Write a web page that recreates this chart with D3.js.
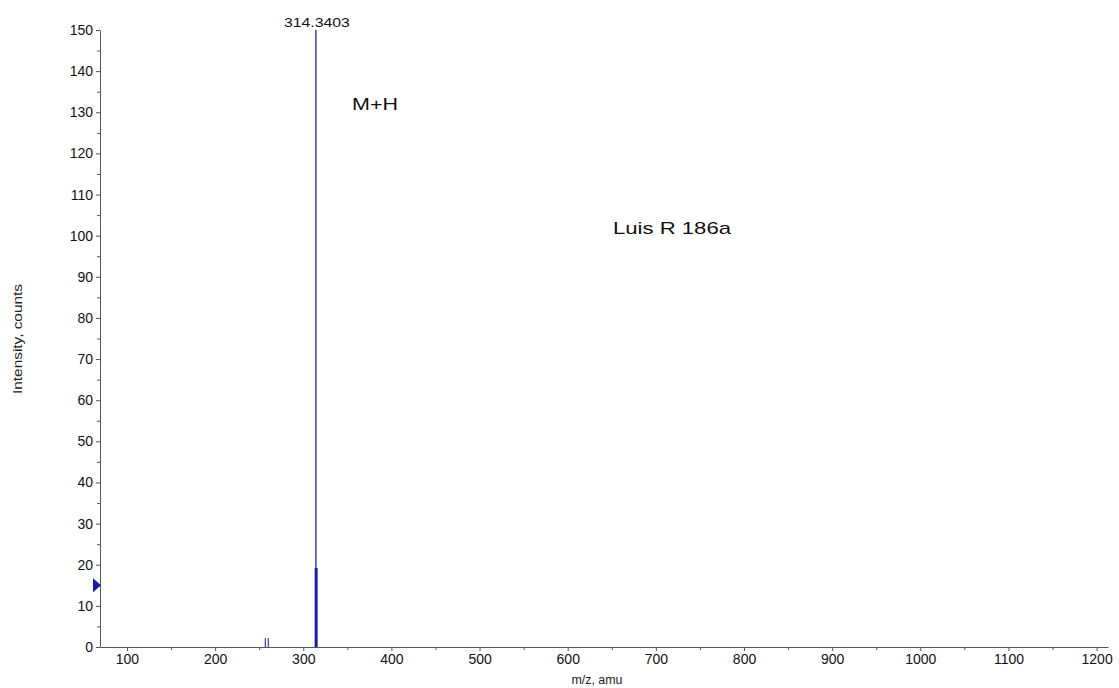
<!DOCTYPE html>
<html><head><meta charset="utf-8">
<script src="https://cdn.jsdelivr.net/npm/d3@7"></script>
<style>body{margin:0;background:#fff;}svg{display:block;font-family:"Liberation Sans",Arial,sans-serif;}</style>
</head><body>
<script>
// Data
const peakMz = [256.9, 260.3, 314.3403];
const peakIntensity = [2.2, 2.2, 150];
const profileMz = [314.6];
const profileIntensity = [19.2];
const xTicks = [100, 200, 300, 400, 500, 600, 700, 800, 900, 1000, 1100, 1200];
const yTicks = [0, 10, 20, 30, 40, 50, 60, 70, 80, 90, 100, 110, 120, 130, 140, 150];
const peakLabel = ["314.3403"];
const annotations = ["M+H", "Luis R 186a"];
const thresholdValue = [15];

const W = 1119, H = 688;
const svg = d3.select("body").append("svg").attr("width", W).attr("height", H);

const x = d3.scaleLinear().domain([69.4, 1212.9]).range([100, 1108]);
const y = d3.scaleLinear().domain([0, 150]).range([647, 30]);

const axisColor = "#555";
// x axis
svg.append("g").attr("transform", `translate(0,${y(0)})`)
  .call(d3.axisBottom(x).tickValues(xTicks).tickSize(4).tickSizeOuter(0).tickPadding(3).tickFormat(d3.format("d")));
const xMinor = svg.append("g").attr("transform", `translate(0,${y(0)})`)
  .call(d3.axisBottom(x).tickValues(d3.range(150, 1200, 100)).tickSize(3).tickSizeOuter(0).tickFormat(""));
xMinor.select(".domain").remove();
// y axis
svg.append("g").attr("transform", `translate(${x.range()[0]},0)`)
  .call(d3.axisLeft(y).tickValues(yTicks).tickSize(4).tickSizeOuter(0).tickPadding(3));
const yMinor = svg.append("g").attr("transform", `translate(${x.range()[0]},0)`)
  .call(d3.axisLeft(y).tickValues(d3.range(5, 150, 10)).tickSize(3).tickSizeOuter(0).tickFormat(""));
yMinor.select(".domain").remove();

svg.selectAll(".domain").attr("stroke", axisColor);
svg.selectAll(".tick line").attr("stroke", axisColor);
svg.selectAll(".tick text").attr("font-size", 14).attr("fill", "#111").attr("font-family", "Liberation Sans, Arial, sans-serif");

// axis titles
svg.append("text").attr("x", 597).attr("y", 684).attr("text-anchor", "middle")
  .attr("font-size", 12).attr("textLength", 51).attr("lengthAdjust", "spacingAndGlyphs")
  .attr("fill", "#222").text("m/z, amu");
svg.append("text").attr("transform", `translate(22,${339}) rotate(-90)`).attr("text-anchor", "middle")
  .attr("font-size", 13).attr("textLength", 110).attr("lengthAdjust", "spacingAndGlyphs")
  .attr("fill", "#222").text("Intensity, counts");

// peaks (sticks)
svg.append("g").selectAll("line").data(peakMz).join("line")
  .attr("x1", d => x(d)).attr("x2", d => x(d))
  .attr("y1", y(0)).attr("y2", (d, i) => y(peakIntensity[i]))
  .attr("stroke", "#2b2bd0").attr("stroke-width", (d, i) => peakIntensity[i] > 10 ? 1.4 : 1.1);

// profile (thick lower part)
svg.append("g").selectAll("rect").data(profileMz).join("rect")
  .attr("x", d => x(d) - 1.5).attr("width", 3)
  .attr("y", (d, i) => y(profileIntensity[i])).attr("height", (d, i) => y(0) - y(profileIntensity[i]))
  .attr("fill", "#1a1aa8");

// peak label
svg.append("text").attr("x", x(peakMz[2]) + 1).attr("y", y(150) - 3).attr("text-anchor", "middle")
  .attr("font-size", 13).attr("textLength", 66).attr("lengthAdjust", "spacingAndGlyphs")
  .attr("fill", "#111").text(peakLabel[0]);

// annotations
svg.append("text").attr("x", 352).attr("y", 110).attr("font-size", 17)
  .attr("textLength", 46).attr("lengthAdjust", "spacingAndGlyphs").attr("fill", "#111").text(annotations[0]);
svg.append("text").attr("x", 613).attr("y", 234).attr("font-size", 17)
  .attr("textLength", 118).attr("lengthAdjust", "spacingAndGlyphs").attr("fill", "#111").text(annotations[1]);

// threshold marker triangle
const ty = y(thresholdValue[0]);
svg.append("path").attr("d", `M93,${ty - 7}L101,${ty}L93,${ty + 7}Z`).attr("fill", "#1a1aa8");
</script>
</body></html>
